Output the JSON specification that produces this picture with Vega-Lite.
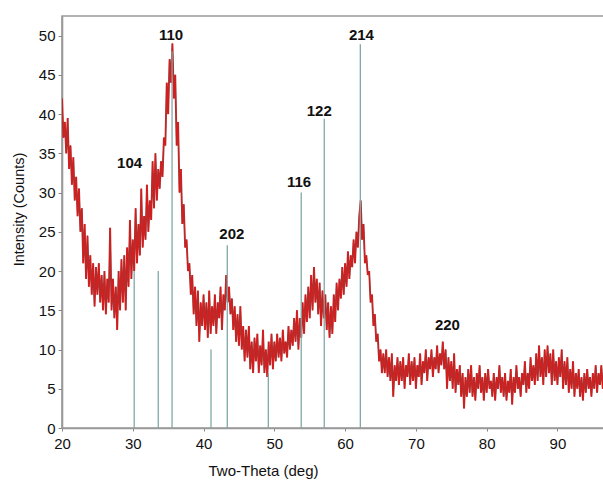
{
  "$schema": "https://vega.github.io/schema/vega-lite/v6.json",
  "autosize": "none",
  "width": 545,
  "height": 412,
  "padding": {"left": 62, "top": 16, "right": 0, "bottom": 52},
  "background": "white",
  "config": {
    "view": {"stroke": "#999999", "strokeWidth": 1.6},
    "font": "Liberation Sans"
  },
  "datasets": {
    "xrd": [
      {"t":20.0,"i":42},{"t":20.2,"i":37},{"t":20.4,"i":39},{"t":20.6,"i":35},{"t":20.8,"i":39.5},
      {"t":21.0,"i":33},{"t":21.2,"i":36},{"t":21.4,"i":31},{"t":21.6,"i":34.5},{"t":21.8,"i":29},
      {"t":22.0,"i":32},{"t":22.2,"i":27},{"t":22.4,"i":30.5},{"t":22.6,"i":25},{"t":22.8,"i":28},
      {"t":23.0,"i":21},{"t":23.2,"i":26},{"t":23.4,"i":19},{"t":23.6,"i":24.5},{"t":23.8,"i":18},
      {"t":24.0,"i":22},{"t":24.2,"i":17},{"t":24.4,"i":21},{"t":24.6,"i":15.5},{"t":24.8,"i":20.5},
      {"t":25.0,"i":17},{"t":25.2,"i":21},{"t":25.4,"i":16},{"t":25.6,"i":19.5},{"t":25.8,"i":15},
      {"t":26.0,"i":20},{"t":26.2,"i":14.5},{"t":26.4,"i":19},{"t":26.6,"i":16},{"t":26.8,"i":25.5},
      {"t":27.0,"i":15},{"t":27.2,"i":19},{"t":27.4,"i":14},{"t":27.6,"i":18},{"t":27.8,"i":12.5},
      {"t":28.0,"i":20},{"t":28.2,"i":15},{"t":28.4,"i":21.5},{"t":28.6,"i":16},{"t":28.8,"i":22},
      {"t":29.0,"i":15},{"t":29.2,"i":23},{"t":29.4,"i":18},{"t":29.6,"i":26.5},{"t":29.8,"i":19},
      {"t":30.0,"i":24},{"t":30.2,"i":20},{"t":30.4,"i":28},{"t":30.6,"i":21},{"t":30.8,"i":26},
      {"t":31.0,"i":22},{"t":31.2,"i":30.5},{"t":31.4,"i":23},{"t":31.6,"i":27},{"t":31.8,"i":24},
      {"t":32.0,"i":31},{"t":32.2,"i":25},{"t":32.4,"i":29},{"t":32.6,"i":26.5},{"t":32.8,"i":34},
      {"t":33.0,"i":28},{"t":33.2,"i":35},{"t":33.4,"i":29},{"t":33.6,"i":33},{"t":33.8,"i":30.5},
      {"t":34.0,"i":34},{"t":34.2,"i":32},{"t":34.4,"i":37},{"t":34.6,"i":36},{"t":34.8,"i":44},
      {"t":35.0,"i":40},{"t":35.2,"i":47},{"t":35.4,"i":44},{"t":35.6,"i":49},{"t":35.8,"i":42},
      {"t":36.0,"i":45},{"t":36.2,"i":36},{"t":36.4,"i":39},{"t":36.6,"i":30},{"t":36.8,"i":33},
      {"t":37.0,"i":26},{"t":37.2,"i":28.5},{"t":37.4,"i":23},{"t":37.6,"i":24},{"t":37.8,"i":20},
      {"t":38.0,"i":21},{"t":38.2,"i":17},{"t":38.4,"i":19.5},{"t":38.6,"i":14.5},{"t":38.8,"i":18},
      {"t":39.0,"i":13},{"t":39.2,"i":17.5},{"t":39.4,"i":11},{"t":39.6,"i":16},{"t":39.8,"i":13},
      {"t":40.0,"i":17},{"t":40.2,"i":12.5},{"t":40.4,"i":16},{"t":40.6,"i":11.5},{"t":40.8,"i":17.5},
      {"t":41.0,"i":12},{"t":41.2,"i":15.5},{"t":41.4,"i":13},{"t":41.6,"i":17},{"t":41.8,"i":12},
      {"t":42.0,"i":16},{"t":42.2,"i":14},{"t":42.4,"i":18},{"t":42.6,"i":12.5},{"t":42.8,"i":17},
      {"t":43.0,"i":15},{"t":43.2,"i":19.5},{"t":43.4,"i":16},{"t":43.6,"i":18},{"t":43.8,"i":14.5},
      {"t":44.0,"i":16.5},{"t":44.2,"i":12.5},{"t":44.4,"i":15.5},{"t":44.6,"i":11},{"t":44.8,"i":14.5},
      {"t":45.0,"i":10.5},{"t":45.2,"i":15.5},{"t":45.4,"i":10},{"t":45.6,"i":13},{"t":45.8,"i":8.5},
      {"t":46.0,"i":12.5},{"t":46.2,"i":9},{"t":46.4,"i":13},{"t":46.6,"i":7.5},{"t":46.8,"i":11},
      {"t":47.0,"i":7},{"t":47.2,"i":11.5},{"t":47.4,"i":8.5},{"t":47.6,"i":12},{"t":47.8,"i":7},
      {"t":48.0,"i":10.5},{"t":48.2,"i":8},{"t":48.4,"i":12.5},{"t":48.6,"i":7},{"t":48.8,"i":10},
      {"t":49.0,"i":6.5},{"t":49.2,"i":11},{"t":49.4,"i":8},{"t":49.6,"i":12},{"t":49.8,"i":7.5},
      {"t":50.0,"i":11},{"t":50.2,"i":8.5},{"t":50.4,"i":12},{"t":50.6,"i":9},{"t":50.8,"i":11.5},
      {"t":51.0,"i":8.5},{"t":51.2,"i":12.5},{"t":51.4,"i":9.5},{"t":51.6,"i":11},{"t":51.8,"i":9},
      {"t":52.0,"i":13},{"t":52.2,"i":10},{"t":52.4,"i":12.5},{"t":52.6,"i":10.5},{"t":52.8,"i":14},
      {"t":53.0,"i":11},{"t":53.2,"i":15},{"t":53.4,"i":10},{"t":53.6,"i":14},{"t":53.8,"i":11.5},
      {"t":54.0,"i":16},{"t":54.2,"i":12},{"t":54.4,"i":17},{"t":54.6,"i":13.5},{"t":54.8,"i":18},
      {"t":55.0,"i":14},{"t":55.2,"i":19.5},{"t":55.4,"i":15},{"t":55.6,"i":20.5},{"t":55.8,"i":16},
      {"t":56.0,"i":19},{"t":56.2,"i":14.5},{"t":56.4,"i":18.5},{"t":56.6,"i":13},{"t":56.8,"i":17.5},
      {"t":57.0,"i":14},{"t":57.2,"i":17},{"t":57.4,"i":12.5},{"t":57.6,"i":16},{"t":57.8,"i":11.5},
      {"t":58.0,"i":15.5},{"t":58.2,"i":12},{"t":58.4,"i":17},{"t":58.6,"i":13.5},{"t":58.8,"i":18.5},
      {"t":59.0,"i":15},{"t":59.2,"i":19},{"t":59.4,"i":16.5},{"t":59.6,"i":20.5},{"t":59.8,"i":17},
      {"t":60.0,"i":21},{"t":60.2,"i":18},{"t":60.4,"i":22.5},{"t":60.6,"i":19},{"t":60.8,"i":22},
      {"t":61.0,"i":20.5},{"t":61.2,"i":24},{"t":61.4,"i":21},{"t":61.6,"i":25},{"t":61.8,"i":23},
      {"t":62.0,"i":27},{"t":62.2,"i":29},{"t":62.4,"i":24},{"t":62.6,"i":26},{"t":62.8,"i":21},
      {"t":63.0,"i":22},{"t":63.2,"i":19.5},{"t":63.4,"i":20},{"t":63.6,"i":16},{"t":63.8,"i":17},
      {"t":64.0,"i":13},{"t":64.2,"i":14.5},{"t":64.4,"i":11},{"t":64.6,"i":12},{"t":64.8,"i":8.5},
      {"t":65.0,"i":10},{"t":65.2,"i":7},{"t":65.4,"i":9.5},{"t":65.6,"i":7},{"t":65.8,"i":10},
      {"t":66.0,"i":6.5},{"t":66.2,"i":9},{"t":66.4,"i":6},{"t":66.6,"i":9.5},{"t":66.8,"i":4},
      {"t":67.0,"i":8},{"t":67.2,"i":6},{"t":67.4,"i":9},{"t":67.6,"i":5.5},{"t":67.8,"i":8.5},
      {"t":68.0,"i":6},{"t":68.2,"i":9},{"t":68.4,"i":5},{"t":68.6,"i":8},{"t":68.8,"i":6.5},
      {"t":69.0,"i":9.5},{"t":69.2,"i":5.5},{"t":69.4,"i":8.5},{"t":69.6,"i":6},{"t":69.8,"i":9},
      {"t":70.0,"i":5},{"t":70.2,"i":8},{"t":70.4,"i":6.5},{"t":70.6,"i":9.5},{"t":70.8,"i":5.5},
      {"t":71.0,"i":8.5},{"t":71.2,"i":7},{"t":71.4,"i":10},{"t":71.6,"i":6},{"t":71.8,"i":9},
      {"t":72.0,"i":7.5},{"t":72.2,"i":10},{"t":72.4,"i":6.5},{"t":72.6,"i":9},{"t":72.8,"i":7.5},
      {"t":73.0,"i":10.5},{"t":73.2,"i":7},{"t":73.4,"i":9.5},{"t":73.6,"i":8},{"t":73.8,"i":11},
      {"t":74.0,"i":7.5},{"t":74.2,"i":10},{"t":74.4,"i":5},{"t":74.6,"i":9},{"t":74.8,"i":6},
      {"t":75.0,"i":8.5},{"t":75.2,"i":5},{"t":75.4,"i":9.5},{"t":75.6,"i":4.5},{"t":75.8,"i":7.5},
      {"t":76.0,"i":5.5},{"t":76.2,"i":8},{"t":76.4,"i":4},{"t":76.6,"i":7},{"t":76.8,"i":2.5},
      {"t":77.0,"i":6.5},{"t":77.2,"i":4},{"t":77.4,"i":7.5},{"t":77.6,"i":4.5},{"t":77.8,"i":8},
      {"t":78.0,"i":4},{"t":78.2,"i":6.5},{"t":78.4,"i":3.5},{"t":78.6,"i":7},{"t":78.8,"i":5},
      {"t":79.0,"i":8},{"t":79.2,"i":4.5},{"t":79.4,"i":6.5},{"t":79.6,"i":3.5},{"t":79.8,"i":7},
      {"t":80.0,"i":4.5},{"t":80.2,"i":7.5},{"t":80.4,"i":5},{"t":80.6,"i":6},{"t":80.8,"i":4},
      {"t":81.0,"i":7},{"t":81.2,"i":3.5},{"t":81.4,"i":6.5},{"t":81.6,"i":5},{"t":81.8,"i":8},
      {"t":82.0,"i":4.5},{"t":82.2,"i":6.5},{"t":82.4,"i":4},{"t":82.6,"i":7},{"t":82.8,"i":3.5},
      {"t":83.0,"i":6},{"t":83.2,"i":4.5},{"t":83.4,"i":7.5},{"t":83.6,"i":3},{"t":83.8,"i":6.5},
      {"t":84.0,"i":4.5},{"t":84.2,"i":8},{"t":84.4,"i":5},{"t":84.6,"i":6.5},{"t":84.8,"i":4},
      {"t":85.0,"i":7},{"t":85.2,"i":5.5},{"t":85.4,"i":8.5},{"t":85.6,"i":4.5},{"t":85.8,"i":7},
      {"t":86.0,"i":5},{"t":86.2,"i":9},{"t":86.4,"i":6},{"t":86.6,"i":8},{"t":86.8,"i":5.5},
      {"t":87.0,"i":9.5},{"t":87.2,"i":6},{"t":87.4,"i":10.5},{"t":87.6,"i":6.5},{"t":87.8,"i":9},
      {"t":88.0,"i":5.5},{"t":88.2,"i":10},{"t":88.4,"i":6.5},{"t":88.6,"i":10.5},{"t":88.8,"i":7},
      {"t":89.0,"i":9.5},{"t":89.2,"i":5.5},{"t":89.4,"i":10},{"t":89.6,"i":6},{"t":89.8,"i":8.5},
      {"t":90.0,"i":5.5},{"t":90.2,"i":9},{"t":90.4,"i":6.5},{"t":90.6,"i":10},{"t":90.8,"i":5},
      {"t":91.0,"i":8.5},{"t":91.2,"i":5.5},{"t":91.4,"i":9},{"t":91.6,"i":4.5},{"t":91.8,"i":7.5},
      {"t":92.0,"i":5},{"t":92.2,"i":8.5},{"t":92.4,"i":4},{"t":92.6,"i":7},{"t":92.8,"i":5},
      {"t":93.0,"i":7.5},{"t":93.2,"i":4},{"t":93.4,"i":6.5},{"t":93.6,"i":3.5},{"t":93.8,"i":7},
      {"t":94.0,"i":4.5},{"t":94.2,"i":7.5},{"t":94.4,"i":5},{"t":94.6,"i":6.5},{"t":94.8,"i":4},
      {"t":95.0,"i":7},{"t":95.2,"i":5},{"t":95.4,"i":8},{"t":95.6,"i":4.5},{"t":95.8,"i":7},
      {"t":96.0,"i":5.5},{"t":96.2,"i":8},{"t":96.4,"i":5},{"t":96.6,"i":7.5},{"t":96.8,"i":6},
      {"t":97.0,"i":7}
    ],
    "refs": [
      {"t":30.2,"h":20},{"t":33.6,"h":20},{"t":35.55,"h":48},{"t":41.05,"h":10},
      {"t":43.35,"h":23.3},{"t":49.15,"h":7},{"t":53.8,"h":30},{"t":57.05,"h":39.4},{"t":62.15,"h":48.9}
    ],
    "labels": [
      {"t":29.55,"y":33.8,"txt":"104"},{"t":35.4,"y":50.1,"txt":"110"},{"t":44.0,"y":24.7,"txt":"202"},
      {"t":53.5,"y":31.4,"txt":"116"},{"t":56.35,"y":40.4,"txt":"122"},{"t":62.3,"y":50.1,"txt":"214"},
      {"t":74.45,"y":13.1,"txt":"220"}
    ]
  },
  "layer": [
    {
      "data": {"name": "xrd"},
      "mark": {"type": "line", "color": "#944040", "strokeWidth": 1.9, "clip": true},
      "encoding": {
        "x": {
          "field": "t", "type": "quantitative",
          "scale": {"domain": [20, 97], "nice": false, "zero": false},
          "axis": {
            "title": "Two-Theta (deg)",
            "values": [20,30,40,50,60,70,80,90],
            "labelOverlap": false,
            "grid": false,
            "domainColor": "#999999", "domainWidth": 1.6,
            "tickColor": "#888888", "tickSize": 3, "tickWidth": 1,
            "labelFont": "Liberation Sans", "labelFontSize": 15, "labelColor": "#111111",
            "labelPadding": 5, "labelFlush": false,
            "titleFont": "Liberation Sans", "titleFontSize": 15, "titleFontWeight": "normal", "titleColor": "#111111",
            "titleX": 201, "titleY": 47, "titleBaseline": "alphabetic", "titleAlign": "center"
          }
        },
        "y": {
          "field": "i", "type": "quantitative",
          "scale": {"domain": [0, 52.5], "nice": false},
          "axis": {
            "title": "Intensity (Counts)",
            "values": [0,5,10,15,20,25,30,35,40,45,50],
            "labelOverlap": false,
            "grid": false,
            "domainColor": "#999999", "domainWidth": 1.6,
            "tickColor": "#888888", "tickSize": 4, "tickWidth": 1,
            "labelFont": "Liberation Sans", "labelFontSize": 15, "labelColor": "#111111",
            "labelPadding": 3,
            "titleFont": "Liberation Sans", "titleFontSize": 14.5, "titleFontWeight": "normal", "titleColor": "#111111",
            "titleX": -43, "titleY": 193, "titleAngle": -90, "titleBaseline": "middle", "titleAlign": "center"
          }
        }
      }
    },
    {
      "data": {"name": "xrd"},
      "mark": {"type": "line", "color": "#ee1010", "strokeWidth": 0.8, "clip": true},
      "encoding": {
        "x": {"field": "t", "type": "quantitative"},
        "y": {"field": "i", "type": "quantitative"}
      }
    },
    {
      "data": {"name": "refs"},
      "mark": {"type": "rule", "color": "#80a8a8", "strokeWidth": 1.3},
      "encoding": {
        "x": {"field": "t", "type": "quantitative"},
        "y": {"field": "h", "type": "quantitative"},
        "y2": {"datum": 0}
      }
    },
    {
      "data": {"name": "labels"},
      "mark": {"type": "text", "font": "Liberation Sans", "fontSize": 15, "fontWeight": "bold", "color": "#111111", "baseline": "middle", "align": "center"},
      "encoding": {
        "x": {"field": "t", "type": "quantitative"},
        "y": {"field": "y", "type": "quantitative"},
        "text": {"field": "txt"}
      }
    }
  ]
}
